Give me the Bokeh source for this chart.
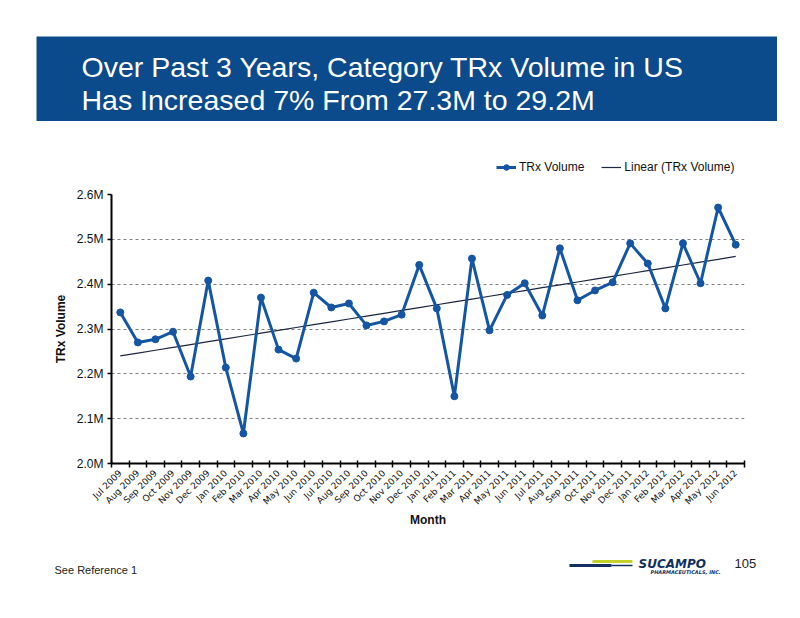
import numpy as np
from bokeh.plotting import figure
from bokeh.layouts import column, row
from bokeh.models import (Range1d, FixedTicker, PrintfTickFormatter, Legend, LegendItem,
                          Label, ColumnDataSource)
from bokeh.embed import file_html
from bokeh.resources import INLINE

# ---------------- data ----------------
months = ["Jul 2009", "Aug 2009", "Sep 2009", "Oct 2009", "Nov 2009", "Dec 2009",
          "Jan 2010", "Feb 2010", "Mar 2010", "Apr 2010", "May 2010", "Jun 2010",
          "Jul 2010", "Aug 2010", "Sep 2010", "Oct 2010", "Nov 2010", "Dec 2010",
          "Jan 2011", "Feb 2011", "Mar 2011", "Apr 2011", "May 2011", "Jun 2011",
          "Jul 2011", "Aug 2011", "Sep 2011", "Oct 2011", "Nov 2011", "Dec 2011",
          "Jan 2012", "Feb 2012", "Mar 2012", "Apr 2012", "May 2012", "Jun 2012"]
trx_volume_m = [2.337, 2.270, 2.277, 2.294, 2.194, 2.408,
                2.214, 2.067, 2.370, 2.254, 2.234, 2.381,
                2.348, 2.357, 2.308, 2.317, 2.332, 2.443,
                2.346, 2.150, 2.457, 2.297, 2.376, 2.402,
                2.330, 2.480, 2.364, 2.386, 2.404, 2.491,
                2.446, 2.346, 2.491, 2.402, 2.571, 2.488]
y_ticks = [2.0, 2.1, 2.2, 2.3, 2.4, 2.5, 2.6]
series_name = "TRx Volume"
trend_name = "Linear (TRx Volume)"

title_lines = ["Over Past 3 Years, Category TRx Volume in US",
               "Has Increased 7% From 27.3M to 29.2M"]

BLUE = "#0b4a8b"
LINE_BLUE = "#1456a3"
TREND = "#1c2640"
FONT = "Liberation Sans"


def blank(width, height, xr, yr, **kw):
    f = figure(width=width, height=height, x_range=xr, y_range=yr,
               output_backend="svg", toolbar_location=None, min_border=0,
               x_axis_location=None, y_axis_location=None, outline_line_color=None, **kw)
    f.grid.visible = False
    return f


# ---------------- header ----------------
head = blank(741, 85, Range1d(37, 778), Range1d(122, 37),
             background_fill_color=BLUE, border_fill_color=BLUE)
head.margin = (36, 0, 28, 36)
for txt, yy in zip(title_lines, [67, 100]):
    head.add_layout(Label(x=82, y=yy, text=txt, text_color="white", text_font_size="28.5px",
                          text_font=FONT, text_baseline="middle", text_align="left"))

# ---------------- legend strip (proxy renderers kept outside the visible range) ----------------
leg_fig = blank(784, 36, Range1d(0, 1), Range1d(0, 1))
proxy = ColumnDataSource(dict(x=[5, 6], y=[5, 5]))
lr_line = leg_fig.line("x", "y", source=proxy, line_color=LINE_BLUE, line_width=3)
lr_pts = leg_fig.scatter("x", "y", source=proxy, size=7, fill_color=LINE_BLUE, line_color=LINE_BLUE)
lr_trend = leg_fig.line("x", "y", source=proxy, line_color=TREND, line_width=1.2)
legend = Legend(items=[LegendItem(label=series_name, renderers=[lr_line, lr_pts]),
                       LegendItem(label=trend_name, renderers=[lr_trend])],
                orientation="horizontal", location=(496, 11), padding=0, margin=0,
                spacing=17, glyph_width=20, glyph_height=14, label_standoff=3,
                border_line_color=None, background_fill_alpha=0,
                label_text_font=FONT, label_text_font_size="12px",
                label_text_color="#111111", label_height=14)
leg_fig.add_layout(legend, "center")

# ---------------- chart ----------------
x = np.arange(len(months))
coef = np.polyfit(x, np.array(trx_volume_m), 1)
trend = np.polyval(coef, x)

p = figure(width=784, height=362, x_range=Range1d(-0.5, len(months) - 0.5),
           y_range=Range1d(2.0, 2.6), output_backend="svg", toolbar_location=None,
           min_border_left=111, min_border_right=40, min_border_top=9, min_border_bottom=84,
           outline_line_color=None)
p.xgrid.visible = False
p.ygrid.grid_line_color = "#808080"
p.ygrid.grid_line_dash = "3 3"
p.ygrid.grid_line_width = 1
p.yaxis.ticker = FixedTicker(ticks=y_ticks)
p.ygrid.ticker = FixedTicker(ticks=y_ticks)
p.yaxis.formatter = PrintfTickFormatter(format="%.1fM")
p.xaxis.ticker = FixedTicker(ticks=list(range(len(months))),
                             minor_ticks=[i - 0.5 for i in range(len(months) + 1)])
p.xaxis.major_label_overrides = {i: m for i, m in enumerate(months)}
p.xaxis.major_label_orientation = np.pi / 4

for ax in (p.xaxis[0], p.yaxis[0]):
    ax.axis_line_color = "black"
    ax.axis_line_width = 2
    ax.major_label_text_font = FONT
    ax.major_label_text_color = "#111111"
    ax.axis_label_text_font = FONT
    ax.axis_label_text_font_style = "bold"
    ax.axis_label_text_font_size = "12px"
    ax.axis_label_text_color = "#111111"

p.yaxis.major_label_text_font_size = "12px"
p.yaxis.major_tick_out = 4
p.yaxis.major_tick_in = 0
p.yaxis.major_tick_line_width = 1.5
p.yaxis.minor_tick_line_color = None
p.yaxis.major_label_standoff = 4
p.yaxis.axis_label = series_name
p.yaxis.axis_label_standoff = 6

p.xaxis.major_label_text_font = "DejaVu Sans"
p.xaxis.major_label_text_font_size = "9px"
p.xaxis.major_tick_line_color = None
p.xaxis.major_tick_out = 0
p.xaxis.major_tick_in = 0
p.xaxis.minor_tick_line_color = "black"
p.xaxis.minor_tick_line_width = 1.5
p.xaxis.minor_tick_in = 3
p.xaxis.minor_tick_out = 4
p.xaxis.major_label_standoff = 4
p.xaxis.axis_label = "Month"
p.xaxis.axis_label_standoff = 0

src = ColumnDataSource(dict(x=x, y=trx_volume_m, t=trend))
p.line("x", "t", source=src, line_color=TREND, line_width=1.2)
p.line("x", "y", source=src, line_color=LINE_BLUE, line_width=3)
p.scatter("x", "y", source=src, size=7, fill_color=LINE_BLUE, line_color=LINE_BLUE)

# ---------------- footer ----------------
foot = blank(784, 60, Range1d(1, 785), Range1d(608, 548))
foot.add_layout(Label(x=55, y=570, text="See Reference 1", text_font=FONT,
                      text_font_size="11px", text_color="#222222", text_baseline="middle"))
foot.add_layout(Label(x=735, y=564, text="105", text_font=FONT,
                      text_font_size="13px", text_color="#222222", text_baseline="middle"))
foot.segment(x0=[570, 612, 593], y0=[566, 566, 562], x1=[612, 633, 633], y1=[566, 566, 562],
             line_color=["#12305f", "#12305f", "#c3cf2a"], line_width=[3, 1.5, 3])
foot.add_layout(Label(x=639, y=564, text="SUCAMPO", text_font="DejaVu Sans",
                      text_font_size="12px", text_font_style="bold italic",
                      text_color="#12305f", text_baseline="middle"))
foot.add_layout(Label(x=651, y=572, text="PHARMACEUTICALS, INC.", text_font="DejaVu Sans",
                      text_font_size="5px", text_font_style="bold italic",
                      text_color="#12305f", text_baseline="middle"))

layout = column(row(head), row(leg_fig), p, row(foot), spacing=0)
open("out.html", "w").write(file_html(layout, INLINE))
